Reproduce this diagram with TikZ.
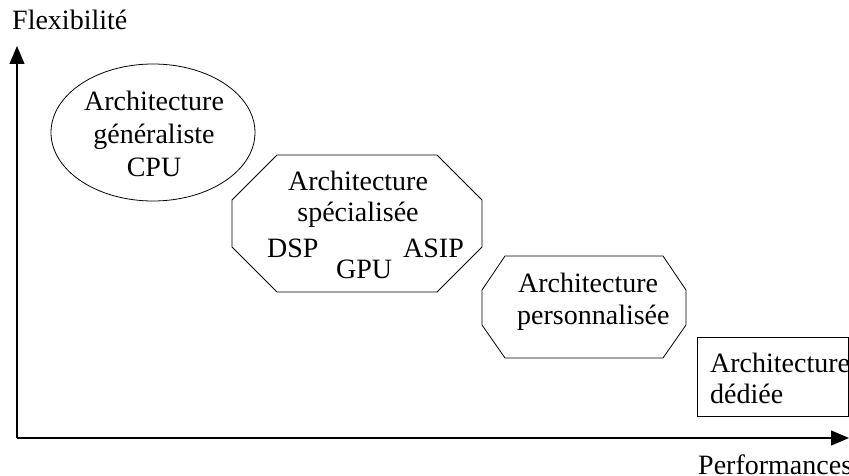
\documentclass[tikz,border=0pt]{standalone}
\usepackage{fontspec}
\setmainfont{Liberation Serif}
\usetikzlibrary{arrows.meta}
\begin{document}
\begin{tikzpicture}[x=1pt,y=-1pt,
  axis/.style={line width=1.1pt,-{Triangle[length=18pt,width=15pt]}},
  shapeline/.style={line width=0.8pt},
  lbl/.style={font=\fontsize{28}{33}\selectfont,inner sep=0pt,anchor=base},
  lblw/.style={lbl,anchor=base west}]
\useasboundingbox (0,0) rectangle (849,476);

% axes
\coordinate (origin) at (17,438);
\coordinate (ytip) at (17,46);
\coordinate (xtip) at (849,438);
\draw[axis] (origin) -- (ytip);
\draw[axis] (origin) -- (xtip);
\node[lblw] (flex) at (12,30) {Flexibilité};
\node[lblw] (perf) at (698,474) {Performances};

% general-purpose architecture
\draw[shapeline] (153,132.5) ellipse [x radius=102, y radius=68.5];
\node[lbl] (g1) at (154,111) {Architecture};
\node[lbl] (g2) at (154,144) {généraliste};
\node[lbl] (g3) at (154,177) {CPU};

% specialised architecture
\draw[shapeline] (277,155) -- (437,155) -- (482,200) -- (482,247) -- (437,292)
  -- (277,292) -- (232,247) -- (232,200) -- cycle;
\node[lbl] (s1) at (358,190) {Architecture};
\node[lbl] (s2) at (358,222) {spécialisée};
\node[lblw] (dsp) at (267,257) {DSP};
\node[lblw] (gpu) at (336,278) {GPU};
\node[lblw] (asip) at (403,257) {ASIP};

% customised architecture
\draw[shapeline] (505,256) -- (663,256) -- (686,290) -- (686,325) -- (663,358)
  -- (505,358) -- (482,325) -- (482,290) -- cycle;
\node[lblw] (p1) at (518,292) {Architecture};
\node[lblw] (p2) at (517,324) {personnalisée};

% dedicated architecture
\draw[shapeline] (697,337) rectangle (848.5,416);
\node[lblw] (d1) at (710,372) {Architecture};
\node[lblw] (d2) at (710,403) {dédiée};
\end{tikzpicture}
\end{document}
